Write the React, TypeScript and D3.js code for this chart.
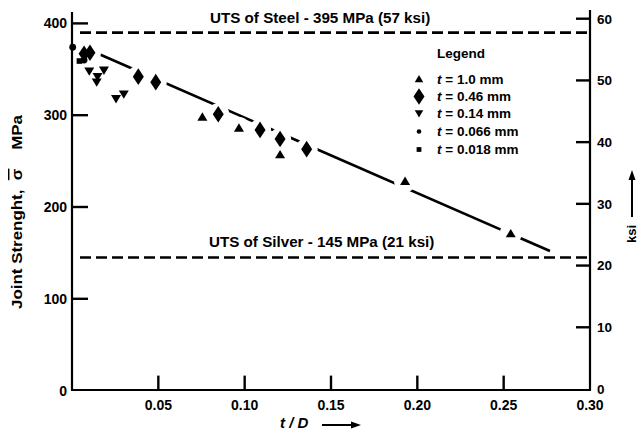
import React from "react";
import * as d3 from "d3";

// ---- data ----
const xTickValues = [0.05, 0.1, 0.15, 0.2, 0.25];
const xTickLabels = ["0.05", "0.10", "0.15", "0.20", "0.25", "0.30"];
const xLabelValues = [0.05, 0.1, 0.15, 0.2, 0.25, 0.3];
const yTickValues = [100, 200, 300, 400];
const yLabelValues = [0, 100, 200, 300, 400];
const ksiTickValues = [10, 20, 30, 40, 50, 60];
const ksiLabelValues = [0, 10, 20, 30, 40, 50, 60];

// t = 1.0 mm (up triangles)
const t10X = [0.0755, 0.0967, 0.1205, 0.1929, 0.2541];
const t10Y = [298, 286, 257, 228, 171];
// t = 0.46 mm (diamonds)
const t046X = [0.007, 0.0104, 0.0384, 0.0485, 0.0847, 0.1089, 0.1205, 0.1359];
const t046Y = [367, 368, 342, 336, 301, 284, 274, 263];
// t = 0.14 mm (down triangles)
const t014X = [0.01, 0.0148, 0.0143, 0.0185, 0.0255, 0.03];
const t014Y = [348, 342, 336, 349, 318, 323];
// t = 0.066 mm (circles)
const t0066X = [0.0004, 0.007];
const t0066Y = [374, 360];
// t = 0.018 mm (squares)
const t0018X = [0.0043];
const t0018Y = [359];

// regression line
const fitX = [0.0139, 0.2768];
const fitY = [368, 152];

// strength limits (MPa, as drawn)
const steelUTS = 390;
const silverUTS = 145;
const steelLabel = "UTS of Steel - 395 MPa (57 ksi)";
const silverLabel = "UTS of Silver - 145 MPa (21 ksi)";

const legendLabels = ["1.0 mm", "0.46 mm", "0.14 mm", "0.066 mm", "0.018 mm"];
const legendShapes = ["up", "diamond", "down", "circle", "square"];

const W = 639;
const H = 436;
const FONT = "'Liberation Sans', Arial, Helvetica, sans-serif";

const x = d3.scaleLinear().domain([0, 0.3]).range([72, 590]);
const y = d3.scaleLinear().domain([0, 400]).range([390.6, 23.4]);
const yKsi = d3.scaleLinear().domain([0, 60]).range([389, 18.7]);

function shapePath(kind: string, s = 1): string {
  switch (kind) {
    case "up":
      return `M0,${-4.7 * s} L${5 * s},${3.7 * s} L${-5 * s},${3.7 * s} Z`;
    case "down":
      return `M0,${4.7 * s} L${5 * s},${-3.7 * s} L${-5 * s},${-3.7 * s} Z`;
    case "diamond":
      return `M0,${-8.3 * s} L${5.5 * s},0 L0,${8.3 * s} L${-5.5 * s},0 Z`;
    case "square":
      return `M${-2.8 * s},${-2.8 * s} h${5.6 * s} v${5.6 * s} h${-5.6 * s} Z`;
    default:
      return "";
  }
}

type Pt = { x: number; y: number; kind: string };

function series(xs: number[], ys: number[], kind: string): Pt[] {
  return xs.map((v, i) => ({ x: v, y: ys[i], kind }));
}

const allPoints: Pt[] = [
  ...series(t10X, t10Y, "up"),
  ...series(t046X, t046Y, "diamond"),
  ...series(t014X, t014Y, "down"),
  ...series(t0066X, t0066Y, "circle"),
  ...series(t0018X, t0018Y, "square"),
];

function Marker({ p }: { p: Pt }) {
  const cx = x(p.x);
  const cy = y(p.y);
  if (p.kind === "circle") return <circle cx={cx} cy={cy} r={3.4} fill="#000" />;
  return <path d={shapePath(p.kind)} transform={`translate(${cx},${cy})`} fill="#000" />;
}

export default function App() {
  const line = d3
    .line<number>()
    .x((d) => x(d))
    .y((_d, i) => y(fitY[i]));

  const legendX = 419;
  const legendRows = [79, 96.5, 113.5, 131.5, 149.5];

  return (
    <svg
      width={W}
      height={H}
      viewBox={`0 0 ${W} ${H}`}
      style={{ position: "absolute", left: 0, top: 0, background: "#fff" }}
      fontFamily={FONT}
      fontWeight="bold"
    >
      <rect x={0} y={0} width={W} height={H} fill="#fff" />
      <defs>
        <mask id="gapMask" maskUnits="userSpaceOnUse" x={0} y={0} width={W} height={H}>
          <rect x={0} y={0} width={W} height={H} fill="#fff" />
          {allPoints.map((p, i) => (
            <circle key={i} cx={x(p.x)} cy={y(p.y)} r={11} fill="#000" />
          ))}
        </mask>
      </defs>

      {/* axes */}
      <line x1={x(0)} y1={y(0)} x2={x(0)} y2={12} stroke="#000" strokeWidth={2.2} />
      <line x1={x(0.3)} y1={y(0)} x2={x(0.3)} y2={10} stroke="#000" strokeWidth={2.2} />
      <line x1={x(0) - 1} y1={y(0) - 0.6} x2={x(0.3) + 1} y2={y(0) - 0.6} stroke="#000" strokeWidth={2.2} />

      {/* left ticks */}
      {yTickValues.map((v) => (
        <line key={v} x1={x(0)} x2={x(0) + 16} y1={y(v)} y2={y(v)} stroke="#000" strokeWidth={2.4} />
      ))}
      {yLabelValues.map((v) => (
        <text key={v} x={67} y={y(v)} dy="0.36em" textAnchor="end" fontSize={14}>
          {v}
        </text>
      ))}

      {/* bottom ticks */}
      {xTickValues.map((v) => (
        <line key={v} x1={x(v)} x2={x(v)} y1={y(0)} y2={y(0) - 15} stroke="#000" strokeWidth={2.4} />
      ))}
      {xLabelValues.map((v, i) => (
        <text key={v} x={x(v)} y={410} textAnchor="middle" fontSize={14}>
          {xTickLabels[i]}
        </text>
      ))}

      {/* right ticks */}
      {ksiTickValues.map((v) => (
        <line key={v} x1={x(0.3)} x2={x(0.3) - 14} y1={yKsi(v)} y2={yKsi(v)} stroke="#000" strokeWidth={2.4} />
      ))}
      {ksiLabelValues.map((v) => (
        <text key={v} x={597} y={yKsi(v)} dy="0.36em" textAnchor="start" fontSize={13.5}>
          {v}
        </text>
      ))}

      {/* UTS dashed lines */}
      <line
        x1={x(0) + 8}
        x2={x(0.3)}
        y1={y(steelUTS)}
        y2={y(steelUTS)}
        stroke="#000"
        strokeWidth={2.6}
        strokeDasharray="11 5"
      />
      <line
        x1={x(0) + 8}
        x2={x(0.3)}
        y1={y(silverUTS)}
        y2={y(silverUTS)}
        stroke="#000"
        strokeWidth={2.6}
        strokeDasharray="11 5"
      />
      <text x={210} y={22.5} fontSize={15.2}>
        {steelLabel}
      </text>
      <text x={209} y={247} fontSize={15.2}>
        {silverLabel}
      </text>

      {/* regression line */}
      <path d={line(fitX) || ""} stroke="#000" strokeWidth={2.6} fill="none" mask="url(#gapMask)" />

      {/* markers */}
      {allPoints.map((p, i) => (
        <Marker key={i} p={p} />
      ))}

      {/* legend */}
      <text x={437} y={58} fontSize={13.5}>
        Legend
      </text>
      {legendLabels.map((lab, i) => {
        const cy = legendRows[i];
        const kind = legendShapes[i];
        return (
          <g key={lab}>
            {kind === "circle" ? (
              <circle cx={legendX} cy={cy} r={2.3} fill="#000" />
            ) : (
              <path
                d={shapePath(kind, kind === "diamond" ? 1 : 0.85)}
                transform={`translate(${legendX},${cy})`}
                fill="#000"
              />
            )}
            <text x={437} y={cy + 4.6} fontSize={13.5}>
              <tspan fontStyle="italic">t</tspan>
              {"\u00a0= " + lab}
            </text>
          </g>
        );
      })}

      {/* y axis title */}
      <text
        transform="translate(22,212) rotate(-90)"
        textAnchor="middle"
        fontSize={14.5}
        textLength={194}
        lengthAdjust="spacingAndGlyphs"
      >
        {"Joint Strenght,\u00a0\u00a0"}
        <tspan style={{ textDecoration: "overline" }}>σ</tspan>
        {"\u00a0\u00a0\u00a0\u00a0MPa"}
      </text>

      {/* ksi title + arrow */}
      <text transform="translate(636,234) rotate(-90)" textAnchor="middle" fontSize={13}>
        ksi
      </text>
      <line x1={632} x2={632} y1={217} y2={178} stroke="#000" strokeWidth={2} />
      <path d="M632,170 L628.5,180 L635.5,180 Z" fill="#000" />

      {/* x axis title + arrow */}
      <text x={280} y={428} fontSize={15} fontStyle="italic">
        t / D
      </text>
      <line x1={322} x2={352} y1={425} y2={425} stroke="#000" strokeWidth={2} />
      <path d="M361,425 L351,421.5 L351,428.5 Z" fill="#000" />
    </svg>
  );
}
